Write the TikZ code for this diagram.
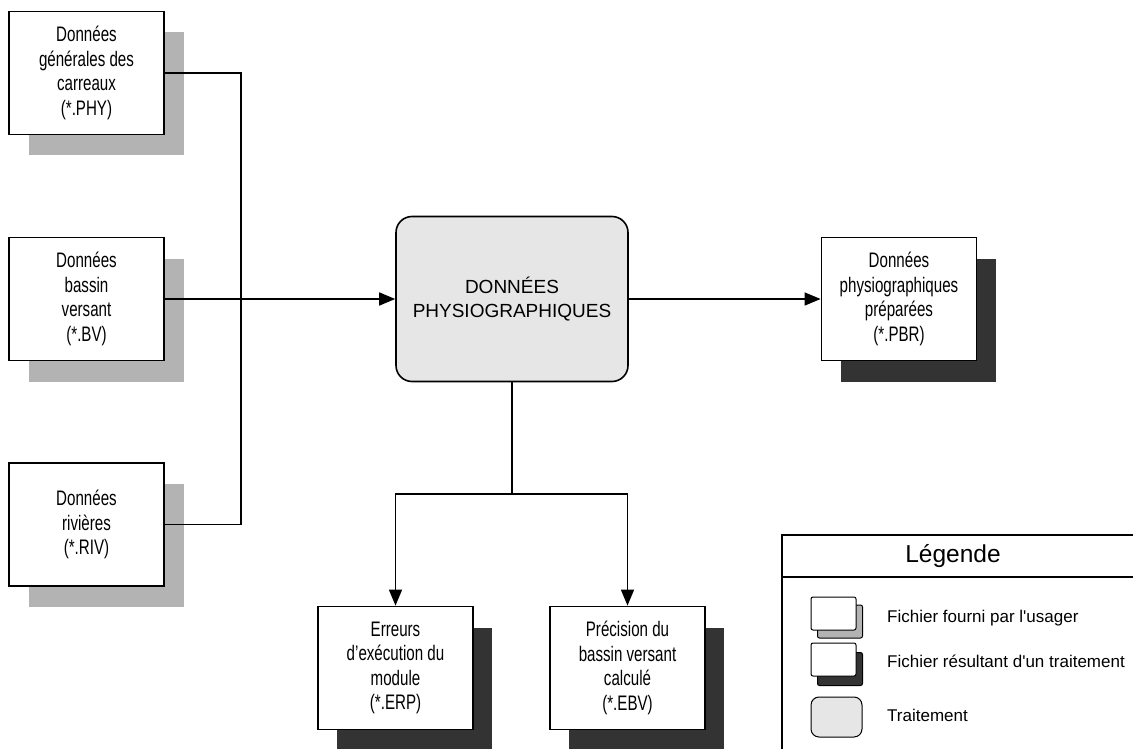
\documentclass[tikz,border=0pt]{standalone}
\usepackage{fontspec}
\newfontfamily\cadfont[FakeStretch=0.72]{Liberation Sans}
\newfontfamily\arialfont{Liberation Sans}
\usetikzlibrary{arrows.meta,shadows}
\definecolor{shlight}{HTML}{B3B3B3}
\definecolor{shdark}{HTML}{333333}
\definecolor{procfill}{HTML}{E6E6E6}
\tikzset{
  filebox/.style={draw=black, line width=1.8pt, fill=white, minimum width=155pt, minimum height=123pt,
    inner sep=0pt, align=center, font=\cadfont\fontsize{21}{24.5}\selectfont},
  userfile/.style={filebox, general shadow={fill=shlight, shadow xshift=20pt, shadow yshift=-21pt}},
  resfile/.style={filebox, general shadow={fill=shdark, shadow xshift=19pt, shadow yshift=-21pt}},
  proc/.style={draw=black, line width=1.6pt, fill=procfill, rounded corners=16pt, minimum width=232pt,
    minimum height=165pt, align=center, font=\arialfont\fontsize{19}{24}\selectfont},
  conn/.style={line width=1.6pt},
  arr/.style={conn, -{Triangle[length=16pt,width=13pt]}},
  legtext/.style={anchor=west, font=\arialfont\fontsize{17}{20}\selectfont, inner sep=0pt},
  icon/.style={draw=black, line width=1pt, rounded corners=2pt, minimum width=45pt, minimum height=33pt, inner sep=0pt},
}
\begin{document}
\begin{tikzpicture}[x=1pt,y=-1pt]
\clip (0,0) rectangle (1133,749);
\fill[white] (0,0) rectangle (1133,749);
% input files
\node[userfile] (phy) at (86.5,73) {Données\\générales des\\carreaux\\(*.PHY)};
\node[userfile] (bv) at (86.5,299) {Données\\bassin\\versant\\(*.BV)};
\node[userfile] (riv) at (86.5,524.5) {Données\\rivières\\(*.RIV)};
% process
\node[proc] (cen) at (512,299) {DONNÉES\\PHYSIOGRAPHIQUES};
% results
\node[resfile] (pbr) at (899,299) {Données\\physiographiques\\préparées\\(*.PBR)};
\node[resfile] (erp) at (395.5,668) {Erreurs\\d’exécution du\\module\\(*.ERP)};
\node[resfile] (ebv) at (627.5,668) {Précision du\\bassin versant\\calculé\\(*.EBV)};
% connectors
\coordinate (jin) at (241,299);
\coordinate (jout) at (512,494);
\draw[conn] (phy.east) -| (jin) |- (riv.east);
\draw[arr] (bv.east) -- (bv.east -| cen.west);
\draw[arr] (cen.east) -- (cen.east -| pbr.west);
\draw[conn] (cen.south) -- (jout);
\draw[arr] (jout) -| (erp.north);
\draw[arr] (jout) -| (ebv.north);
% legend
\draw[line width=1.2pt] (782,535) rectangle (1150,760);
\draw[line width=1.2pt] (782,577) -- (1150,577);
\node[font=\arialfont\fontsize{24.5}{28}\selectfont] (legt) at (953,556) {Légende};
\node[icon, fill=shlight] (i1s) at (840,621.5) {};
\node[icon, fill=white] (i1) at (833.5,613.5) {};
\node[icon, fill=shdark] (i2s) at (840,669) {};
\node[icon, fill=white] (i2) at (833.5,659.5) {};
\node[icon, fill=procfill, rounded corners=8pt, minimum width=51pt, minimum height=40pt] (i3) at (836.5,717) {};
\node[legtext] (l1) at (887,618) {Fichier fourni par l'usager};
\node[legtext] (l2) at (887,661) {Fichier résultant d'un traitement};
\node[legtext] (l3) at (887,715) {Traitement};
\end{tikzpicture}
\end{document}
